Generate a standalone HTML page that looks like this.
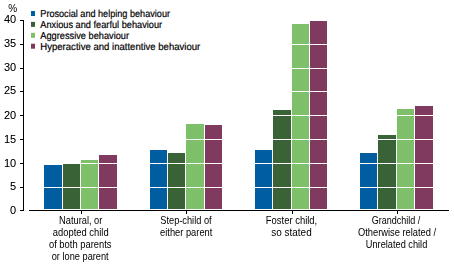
<!DOCTYPE html>
<html><head><meta charset="utf-8"><style>
html,body{margin:0;padding:0;background:#fff;}
body{width:454px;height:265px;position:relative;overflow:hidden;}
svg{position:absolute;left:0;top:0;font-family:"Liberation Sans",sans-serif;fill:#000;}
</style></head><body>
<svg width="454" height="265" viewBox="0 0 454 265">
<defs><filter id="bin" x="-5%" y="-20%" width="110%" height="140%" color-interpolation-filters="sRGB"><feComponentTransfer><feFuncA type="linear" slope="1.0" intercept="0"/></feComponentTransfer></filter><filter id="bin2" x="-10%" y="-20%" width="120%" height="140%" color-interpolation-filters="sRGB"><feComponentTransfer><feFuncA type="linear" slope="1.1" intercept="0"/></feComponentTransfer></filter></defs>
<rect x="44.00" y="165" width="18.00" height="44" fill="#005EA0"/>
<rect x="63.00" y="164" width="17.00" height="45" fill="#3A6237"/>
<rect x="81.00" y="160" width="17.00" height="49" fill="#7EC06A"/>
<rect x="99.00" y="155" width="18.00" height="54" fill="#80395F"/>
<rect x="150.00" y="150" width="17.00" height="59" fill="#005EA0"/>
<rect x="168.00" y="153" width="17.00" height="56" fill="#3A6237"/>
<rect x="186.00" y="124" width="18.00" height="85" fill="#7EC06A"/>
<rect x="205.00" y="125" width="17.00" height="84" fill="#80395F"/>
<rect x="255.00" y="150" width="17.00" height="59" fill="#005EA0"/>
<rect x="273.00" y="110" width="18.00" height="99" fill="#3A6237"/>
<rect x="292.00" y="24" width="17.00" height="185" fill="#7EC06A"/>
<rect x="310.00" y="21" width="17.00" height="188" fill="#80395F"/>
<rect x="360.00" y="153" width="17.00" height="56" fill="#005EA0"/>
<rect x="378.00" y="135" width="18.00" height="74" fill="#3A6237"/>
<rect x="397.00" y="109" width="17.00" height="100" fill="#7EC06A"/>
<rect x="415.00" y="106" width="18.00" height="103" fill="#80395F"/>
<rect x="29" y="187" width="420" height="1" fill="#fff"/>
<rect x="29" y="163" width="420" height="1" fill="#fff"/>
<rect x="29" y="139" width="420" height="1" fill="#fff"/>
<rect x="29" y="115" width="420" height="1" fill="#fff"/>
<rect x="29" y="91" width="420" height="1" fill="#fff"/>
<rect x="29" y="68" width="420" height="1" fill="#fff"/>
<rect x="29" y="44" width="420" height="1" fill="#fff"/>
<rect x="29" y="20" width="420" height="1" fill="#fff"/>
<rect x="29" y="210" width="420" height="1" fill="#000"/>
<rect x="23" y="20" width="1" height="191" fill="#000"/>
<rect x="20" y="187" width="3" height="1" fill="#000"/>
<rect x="20" y="163" width="3" height="1" fill="#000"/>
<rect x="20" y="139" width="3" height="1" fill="#000"/>
<rect x="20" y="115" width="3" height="1" fill="#000"/>
<rect x="20" y="91" width="3" height="1" fill="#000"/>
<rect x="20" y="68" width="3" height="1" fill="#000"/>
<rect x="20" y="44" width="3" height="1" fill="#000"/>
<rect x="20" y="20" width="3" height="1" fill="#000"/>
<rect x="20" y="210" width="3" height="1" fill="#000"/>
<rect x="81" y="211" width="1" height="3" fill="#000"/>
<rect x="186" y="211" width="1" height="3" fill="#000"/>
<rect x="292" y="211" width="1" height="3" fill="#000"/>
<rect x="397" y="211" width="1" height="3" fill="#000"/>
<rect x="31" y="11" width="4" height="5" fill="#005EA0"/>
<rect x="31" y="21.9" width="4" height="5" fill="#3A6237"/>
<rect x="31" y="32.8" width="4" height="5" fill="#7EC06A"/>
<rect x="31" y="43.7" width="4" height="5" fill="#80395F"/>
<text filter="url(#bin2)" x="16.20" y="23.20" font-size="11" letter-spacing="0.000" text-anchor="end">40</text>
<text filter="url(#bin2)" x="16.20" y="47.20" font-size="11" letter-spacing="0.000" text-anchor="end">35</text>
<text filter="url(#bin2)" x="16.20" y="71.20" font-size="11" letter-spacing="0.000" text-anchor="end">30</text>
<text filter="url(#bin2)" x="16.20" y="94.20" font-size="11" letter-spacing="0.000" text-anchor="end">25</text>
<text filter="url(#bin2)" x="16.20" y="119.20" font-size="11" letter-spacing="0.000" text-anchor="end">20</text>
<text filter="url(#bin2)" x="16.20" y="143.20" font-size="11" letter-spacing="0.000" text-anchor="end">15</text>
<text filter="url(#bin2)" x="16.20" y="167.20" font-size="11" letter-spacing="0.000" text-anchor="end">10</text>
<text filter="url(#bin2)" x="16.20" y="190.20" font-size="11" letter-spacing="0.000" text-anchor="end">5</text>
<text filter="url(#bin2)" x="16.20" y="214.20" font-size="11" letter-spacing="0.000" text-anchor="end">0</text>
<text filter="url(#bin)" x="8.30" y="11.50" font-size="10" letter-spacing="0.000" text-anchor="start">%</text>
<text text-rendering="geometricPrecision" stroke="#000" stroke-width="0.2" transform="translate(40.30,17.20) scale(0.8945,1)" x="0" y="0" font-size="10.2" letter-spacing="0.000" text-anchor="start">Prosocial and helping behaviour</text>
<text text-rendering="geometricPrecision" stroke="#000" stroke-width="0.2" transform="translate(40.30,27.75) scale(0.9039,1)" x="0" y="0" font-size="10.2" letter-spacing="0.000" text-anchor="start">Anxious and fearful behaviour</text>
<text text-rendering="geometricPrecision" stroke="#000" stroke-width="0.2" transform="translate(40.30,38.90) scale(0.9055,1)" x="0" y="0" font-size="10.2" letter-spacing="0.000" text-anchor="start">Aggressive behaviour</text>
<text text-rendering="geometricPrecision" stroke="#000" stroke-width="0.2" transform="translate(40.30,49.75) scale(0.9385,1)" x="0" y="0" font-size="10.2" letter-spacing="0.000" text-anchor="start">Hyperactive and inattentive behaviour</text>
<text filter="url(#bin)" transform="translate(80.70,224.00) scale(0.9300,1)" x="0" y="0" font-size="10" letter-spacing="0.000" text-anchor="middle">Natural, or</text>
<text filter="url(#bin)" transform="translate(80.70,236.00) scale(0.9402,1)" x="0" y="0" font-size="10" letter-spacing="0.000" text-anchor="middle">adopted child</text>
<text filter="url(#bin)" transform="translate(80.20,248.00) scale(0.9390,1)" x="0" y="0" font-size="10" letter-spacing="0.000" text-anchor="middle">of both parents</text>
<text filter="url(#bin)" transform="translate(80.20,260.00) scale(0.9236,1)" x="0" y="0" font-size="10" letter-spacing="0.000" text-anchor="middle">or lone parent</text>
<text filter="url(#bin)" transform="translate(185.95,224.00) scale(0.9245,1)" x="0" y="0" font-size="10" letter-spacing="0.000" text-anchor="middle">Step-child of</text>
<text filter="url(#bin)" transform="translate(186.20,236.00) scale(0.9337,1)" x="0" y="0" font-size="10" letter-spacing="0.000" text-anchor="middle">either parent</text>
<text filter="url(#bin)" transform="translate(291.50,224.00) scale(0.9453,1)" x="0" y="0" font-size="10" letter-spacing="0.000" text-anchor="middle">Foster child,</text>
<text filter="url(#bin)" transform="translate(291.50,236.00) scale(0.9975,1)" x="0" y="0" font-size="10" letter-spacing="0.000" text-anchor="middle">so stated</text>
<text filter="url(#bin)" transform="translate(396.05,224.00) scale(0.9022,1)" x="0" y="0" font-size="10" letter-spacing="0.000" text-anchor="middle">Grandchild /</text>
<text filter="url(#bin)" transform="translate(397.05,236.00) scale(0.9337,1)" x="0" y="0" font-size="10" letter-spacing="0.000" text-anchor="middle">Otherwise related /</text>
<text filter="url(#bin)" transform="translate(396.55,248.00) scale(0.9224,1)" x="0" y="0" font-size="10" letter-spacing="0.000" text-anchor="middle">Unrelated child</text>
</svg>
</body></html>
